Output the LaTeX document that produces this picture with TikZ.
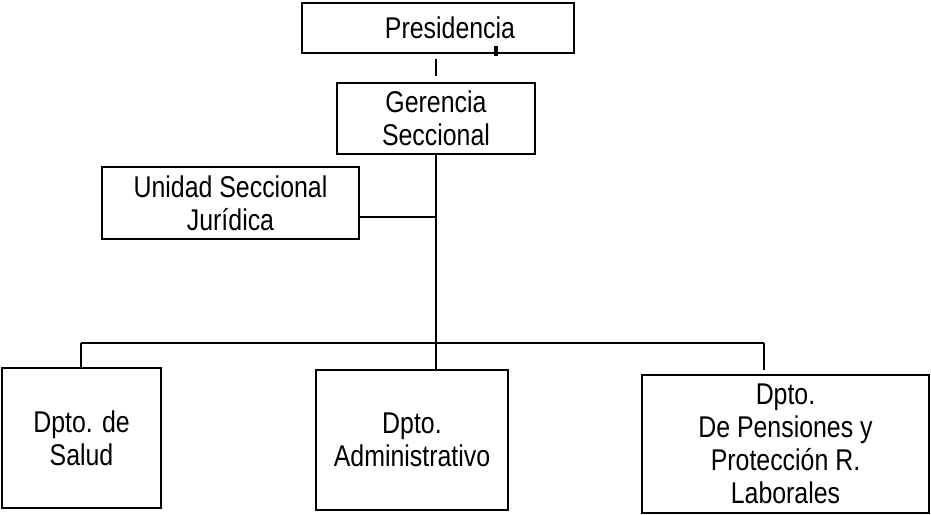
\documentclass[tikz,border=0pt]{standalone}
\usepackage{fontspec}
\setmainfont{Liberation Sans}[FakeStretch=0.83]
\begin{document}
\begin{tikzpicture}[x=1pt,y=-1pt,
  orgbox/.style={draw,line width=2.8pt,align=center,inner sep=2pt,
    font=\fontsize{30}{33}\selectfont},
  link/.style={line width=2.7pt},
  thinlink/.style={line width=2pt}]
\useasboundingbox (0,0) rectangle (931,514);

% boxes
\node[orgbox,minimum width=272pt,minimum height=50pt] (pres) at (438,28)
  {\hspace*{24pt}Presidencia};
\node[orgbox,minimum width=198pt,minimum height=71pt] (ger) at (436,118.5)
  {Gerencia\\Seccional};
\node[orgbox,minimum width=257pt,minimum height=72pt] (uni) at (230.5,203)
  {Unidad Seccional\\Jurídica};
\node[orgbox,minimum width=159pt,minimum height=140pt] (salud) at (81.5,438)
  {Dpto. de\\Salud};
\node[orgbox,minimum width=192pt,minimum height=140pt] (admin) at (412,440)
  {Dpto.\\Administrativo};
\node[orgbox,minimum width=287pt,minimum height=138pt] (pens) at (785.5,444)
  {Dpto.\\De Pensiones y\\Protección R.\\Laborales};

% connector points
\coordinate (gapTop) at (436,59);
\coordinate (gapBot) at (436,76);
\coordinate (tickTop) at (496,46);
\coordinate (tickBot) at (496,56);
\coordinate (jur) at (436,217);
\coordinate (busL) at (81,343);
\coordinate (busM) at (436,343);
\coordinate (busR) at (764,343);
\coordinate (pensDrop) at (764,370);

% connectors
\draw[thinlink] (gapTop) -- (gapBot);
\draw[line width=3.8pt] (tickTop) -- (tickBot);
\draw[link] (ger.south) -- (busM);
\draw[link] (uni.east |- jur) -- (jur);
\draw[link] (busL) -- (busR);
\draw[link] (busL) -- (busL |- salud.north);
\draw[link] (busM) -- (busM |- admin.north);
\draw[link] (busR) -- (pensDrop);
\end{tikzpicture}
\end{document}
